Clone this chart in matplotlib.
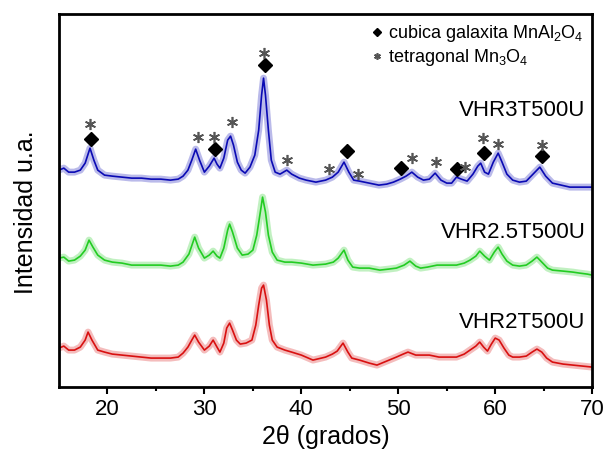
import matplotlib
matplotlib.use('Agg')
import matplotlib.pyplot as plt
import numpy as np

plt.rcParams.update({
    'font.family': 'Liberation Sans',
    'mathtext.fontset': 'custom',
    'mathtext.rm': 'Liberation Sans',
    'mathtext.it': 'Liberation Sans:italic',
})

# 2theta positions (deg) and offset intensities (a.u.) for each sample
tt_3 = [15.0, 15.5, 16.0, 16.6, 17.2, 17.7, 18.2, 18.6, 19.0, 19.7, 20.5, 21.5, 22.5, 23.5,
        24.5, 25.5, 26.5, 27.3, 27.8, 28.3, 28.7, 29.1, 29.5, 30.0, 30.5, 31.0, 31.3, 31.6,
        32.0, 32.4, 32.7, 33.0, 33.4, 33.8, 34.2, 34.7, 35.2, 35.6, 35.9, 36.1, 36.3, 36.6,
        36.9, 37.3, 37.8, 38.5, 39.0, 39.8, 40.5, 41.5, 42.5, 43.2, 43.8, 44.4, 44.9, 45.4,
        46.0, 47.0, 48.0, 48.8, 49.5, 50.2, 50.8, 51.4, 52.0, 52.6, 53.2, 53.8, 54.4, 55.0,
        55.5, 56.0, 56.5, 57.1, 57.7, 58.2, 58.5, 58.9, 59.3, 59.8, 60.3, 60.7, 61.2, 61.8,
        62.5, 63.2, 63.8, 64.6, 65.2, 65.9, 66.8, 67.7, 68.7, 69.7, 70.0]
int_3 = [217, 219, 215, 215, 217, 224, 239, 227, 217, 212, 211, 210, 209, 209,
         208, 208, 207, 208, 211, 217, 227, 238, 227, 215, 221, 229, 223, 219,
         229, 247, 251, 242, 225, 217, 214, 220, 232, 257, 292, 309, 292, 257,
         227, 215, 213, 217, 213, 209, 207, 205, 207, 210, 215, 225, 215, 207,
         206, 204, 202, 203, 205, 208, 211, 215, 210, 207, 208, 214, 207, 204,
         204, 210, 208, 206, 213, 221, 224, 215, 213, 225, 234, 225, 213, 207,
         205, 206, 212, 220, 211, 204, 202, 200, 200, 200, 200]

tt_25 = [15.0, 15.5, 16.0, 16.6, 17.2, 17.7, 18.1, 18.5, 19.0, 19.7, 20.5, 21.5, 22.5, 23.5,
         24.5, 25.5, 26.5, 27.3, 27.8, 28.4, 29.0, 29.4, 30.0, 30.5, 30.9, 31.3, 31.6, 32.0,
         32.4, 32.6, 32.9, 33.4, 33.9, 34.5, 35.0, 35.4, 35.8, 36.0, 36.3, 36.6, 37.0, 37.5,
         38.3, 39.0, 40.0, 41.2, 42.5, 43.3, 43.8, 44.4, 44.8, 45.3, 46.0, 47.0, 48.1, 49.0,
         49.8, 50.6, 51.2, 51.8, 52.3, 53.0, 54.0, 55.0, 56.0, 56.8, 57.4, 58.0, 58.4, 58.9,
         59.4, 59.9, 60.3, 60.7, 61.2, 61.8, 62.5, 63.2, 63.8, 64.3, 64.8, 65.4, 65.9, 67.0,
         68.0, 68.7, 69.5, 70.0]
int_25 = [129, 130, 126, 127, 131, 137, 147, 140, 132, 127, 125, 124, 122, 122,
          122, 122, 121, 122, 125, 133, 150, 139, 129, 132, 136, 131, 129, 139,
          157, 163, 155, 139, 132, 133, 137, 152, 177, 190, 175, 152, 135, 127,
          125, 125, 124, 122, 123, 125, 129, 137, 127, 120, 119, 119, 117, 118,
          119, 122, 126, 121, 119, 120, 122, 122, 122, 124, 127, 131, 136, 131,
          127, 135, 140, 133, 126, 122, 121, 122, 126, 130, 125, 119, 117, 116,
          115, 114, 113, 112]

tt_2 = [15.0, 15.5, 16.0, 16.6, 17.2, 17.7, 18.0, 18.4, 19.0, 19.7, 20.5, 21.5, 22.5, 23.5,
        24.5, 25.5, 26.5, 27.3, 27.8, 28.3, 28.7, 29.0, 29.4, 30.0, 30.5, 30.9, 31.3, 31.6,
        32.0, 32.3, 32.6, 32.9, 33.3, 33.7, 34.3, 34.9, 35.3, 35.6, 35.9, 36.1, 36.4, 36.7,
        37.0, 37.5, 38.3, 39.0, 40.0, 41.2, 42.5, 43.2, 43.7, 44.3, 44.8, 45.2, 46.0, 47.0,
        47.8, 48.8, 49.8, 50.5, 51.0, 51.8, 52.5, 53.2, 54.2, 55.0, 56.0, 56.8, 57.4, 58.0,
        58.4, 58.8, 59.2, 59.6, 60.0, 60.4, 60.9, 61.4, 61.8, 62.5, 63.2, 63.8, 64.3, 64.8,
        65.3, 65.9, 67.0, 68.0, 69.0, 70.0]
int_2 = [39, 41, 37, 37, 40, 47, 55, 47, 37, 35, 33, 32, 31, 30,
         29, 29, 29, 30, 34, 40, 47, 52, 45, 37, 41, 47, 40, 35,
         44, 59, 64, 57, 47, 43, 44, 47, 62, 82, 99, 102, 87, 62,
         47, 40, 37, 35, 32, 27, 30, 33, 36, 44, 35, 29, 27, 24,
         22, 26, 30, 33, 35, 32, 32, 32, 30, 30, 30, 33, 37, 41,
         45, 40, 36, 43, 49, 47, 39, 32, 30, 30, 31, 35, 38, 35,
         29, 25, 23, 22, 21, 20]

# phase reflections marked above the VHR3T500U pattern
galaxite_tt = [18.3, 31.1, 36.24, 44.7, 50.26, 56.03, 58.81, 64.79]
galaxite_y = [248, 238, 322, 236, 219, 218, 234, 231]
hausm_tt = [18.2, 29.33, 30.98, 32.84, 36.13, 38.51, 42.84, 45.82, 51.39, 53.87,
            56.86, 58.71, 60.26, 64.79]
hausm_y = [263, 250, 250, 265, 334, 227, 218, 213, 229, 225, 220, 249, 243, 242]

samples = ['VHR3T500U', 'VHR2.5T500U', 'VHR2T500U']
label_y = [277, 155, 65]
colors = ['#0A0AB4', '#22CC22', '#D81010']

fig = plt.figure(figsize=(6.08, 4.57), dpi=100)
ax = fig.add_axes([0.097, 0.153, 0.877, 0.816])

for tt, yy, c in zip([tt_3, tt_25, tt_2], [int_3, int_25, int_2], colors):
    ax.plot(tt, yy, color=c, lw=5, alpha=0.28, solid_joinstyle='round')
    ax.plot(tt, yy, color=c, lw=1.2)

ax.plot(galaxite_tt, galaxite_y, ls='none', marker='D', color='k', ms=7,
        label=r'cubica galaxita MnAl$_2$O$_4$')
ax.plot(hausm_tt, hausm_y, ls='none', marker=(6, 2, 0), color='#555555', ms=8, mew=1.2,
        label=r'tetragonal Mn$_3$O$_4$')

for name, y in zip(samples, label_y):
    ax.text(69.3, y, name, ha='right', va='center', fontsize=16)

leg = ax.legend(loc='upper right', frameon=False, fontsize=13, handlelength=0.6,
                handletextpad=0.3, markerscale=0.6, borderaxespad=0.1, labelspacing=0.15)

ax.set_xlim(15, 70)
ax.set_ylim(0, 373)
ax.set_xticks([20, 30, 40, 50, 60, 70])
ax.set_xticks([25, 35, 45, 55, 65], minor=True)
ax.set_yticks([])
ax.tick_params(axis='x', which='major', direction='out', length=5, width=1.5, labelsize=16)
ax.tick_params(axis='x', which='minor', direction='out', length=3, width=1.5)
for s in ax.spines.values():
    s.set_linewidth(2)

ax.set_xlabel('2θ (grados)', fontsize=18, labelpad=4)
ax.set_ylabel('Intensidad u.a.', fontsize=18)
ax.yaxis.set_label_coords(-0.04, 0.47)

fig.savefig('out.png', dpi=100)
